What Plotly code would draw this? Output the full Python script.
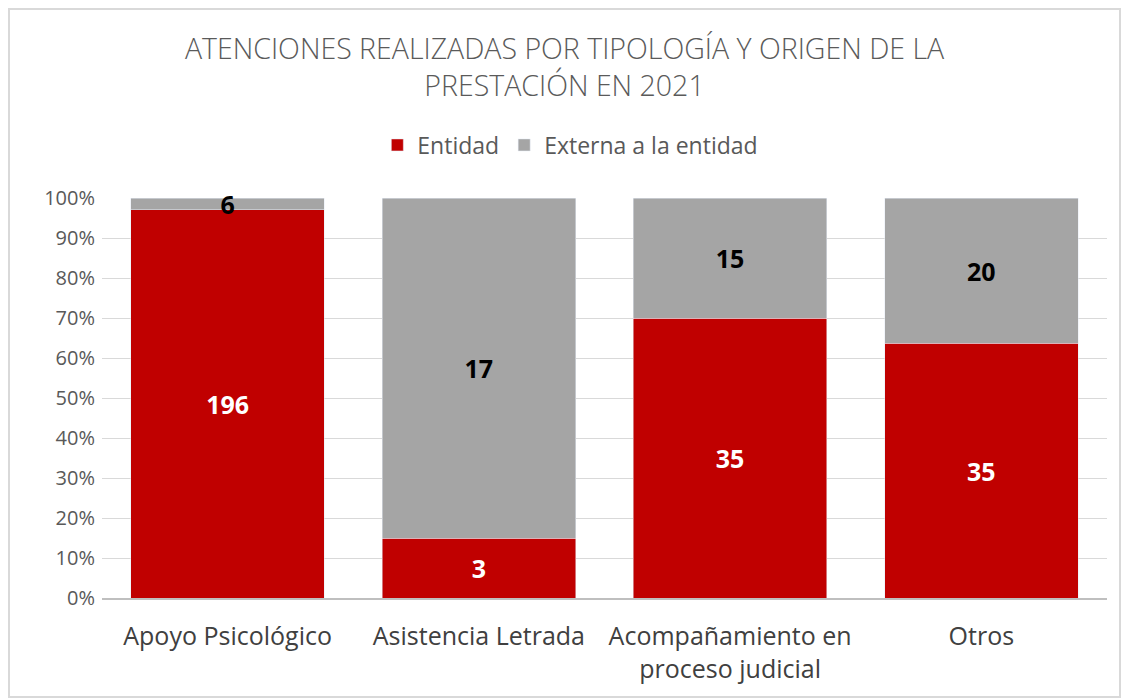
import plotly.graph_objects as go

categories = ["Apoyo Psicológico", "Asistencia Letrada", "Acompañamiento en<br>proceso judicial", "Otros"]
entidad = [196, 3, 35, 35]
externa = [6, 17, 15, 20]
tick_vals = [0, 10, 20, 30, 40, 50, 60, 70, 80, 90, 100]
tick_text = [f"{v}%" for v in tick_vals]

totals = [a + b for a, b in zip(entidad, externa)]
ent_pct = [a / t * 100 for a, t in zip(entidad, totals)]
ext_pct = [b / t * 100 for b, t in zip(externa, totals)]

FONT = "Open Sans, Noto Sans, sans-serif"

fig = go.Figure()
fig.add_trace(go.Bar(
    name="Entidad", x=categories, y=ent_pct, marker_color="#C00000",
    text=[str(v) for v in entidad], textposition="inside", insidetextanchor="middle",
    textangle=0,
    textfont=dict(color="white", size=25, family=FONT, weight="bold"),
    cliponaxis=False, hoverinfo="skip",
))
fig.add_trace(go.Bar(
    name="Externa a la entidad", x=categories, y=ext_pct, marker_color="#A5A5A5",
    text=[str(v) for v in externa], textposition="inside", insidetextanchor="middle",
    textangle=0,
    textfont=dict(color="black", size=25, family=FONT, weight="bold"),
    cliponaxis=False, hoverinfo="skip",
))

L, R, T, B = 102, 22, 198, 101
W, H = 1129, 699
pw, ph = W - L - R, H - T - B

fig.update_layout(
    barmode="stack", bargap=0.23,
    width=W, height=H,
    margin=dict(l=L, r=R, t=T, b=B),
    paper_bgcolor="white", plot_bgcolor="white",
    font=dict(family=FONT, color="#595959"),
    title=dict(
        text="ATENCIONES REALIZADAS POR TIPOLOGÍA Y ORIGEN DE LA<br>PRESTACIÓN EN 2021",
        x=0.5, xanchor="center", y=1 - 59 / H, yanchor="middle",
        font=dict(size=28.5, color="#5A5A5A", family=FONT, weight=300),
    ),
    legend=dict(
        orientation="h", x=0.466, xanchor="center", y=1 + (T - 145) / ph, yanchor="middle",
        font=dict(size=23, color="#595959", family=FONT),
        traceorder="normal", itemwidth=30,
    ),
    uniformtext=dict(minsize=25, mode="show"),
    showlegend=True,
)
fig.update_yaxes(
    range=[0, 100], tickvals=tick_vals, ticktext=tick_text,
    showgrid=True, gridcolor="#D9D9D9", gridwidth=1, zeroline=False,
    tickfont=dict(size=20, color="#595959", family=FONT), ticks="", ticklen=0,
    showline=False, ticklabelstandoff=6,
)
fig.update_xaxes(
    tickfont=dict(size=25, color="#404040", family=FONT),
    showline=True, linecolor="#BFBFBF", linewidth=2, ticks="",
    ticklabelstandoff=15,
)
fig.add_shape(
    type="rect", xref="paper", yref="paper",
    x0=(9 - L) / pw, x1=(W - 9 - L) / pw, y0=-(B - 2) / ph, y1=1 + (T - 9) / ph,
    line=dict(color="#D9D9D9", width=2), fillcolor="rgba(0,0,0,0)", layer="below",
)
fig.write_html(
    "out.html",
    config={"displayModeBar": False},
    post_script="document.body.style.margin='0';document.body.style.overflow='hidden';",
)
